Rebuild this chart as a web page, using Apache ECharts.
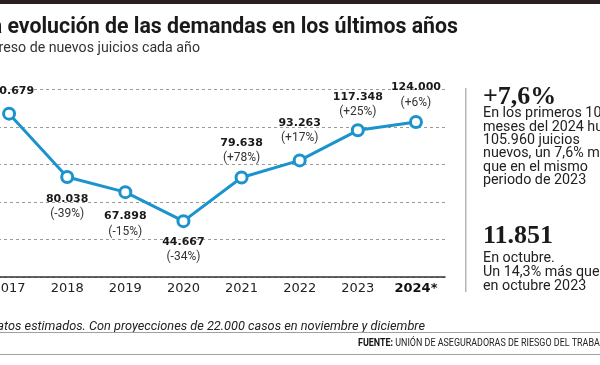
<!DOCTYPE html>
<html>
<head>
<meta charset="utf-8">
<script src="https://cdn.jsdelivr.net/npm/echarts@6/dist/echarts.min.js"></script>
<style>
html,body{margin:0;padding:0;background:#fff;overflow:hidden;width:600px;height:365px;}
#chart{width:620px;height:365px;margin-left:-20px;}
</style>
</head>
<body>
<div id="chart"></div>
<script>
// ---- data ----
var years = ['2017', '2018', '2019', '2020', '2021', '2022', '2023', '2024*'];
var values = [130679, 80038, 67898, 44667, 79638, 93263, 117348, 124000];
var changes = ['', '(-39%)', '(-15%)', '(-34%)', '(+78%)', '(+17%)', '(+25%)', '(+6%)'];
var yTicks = [0, 30000, 60000, 90000, 120000, 150000];

// ---- style (not data) ----
var labelSide = ['top', 'bottom', 'bottom', 'bottom', 'top', 'top', 'top', 'top'];
var labelGap = [8, 8, 10, 6, 5, 8, 4, 5];
var BLUE = '#1b93cc';
var OX = 20; // canvas is shifted 20px to the left

function fmt(v) {
  return String(v).replace(/\B(?=(\d{3})+(?!\d))/g, '.');
}

var seriesData = values.map(function (v, i) {
  return {
    value: v,
    label: {
      position: labelSide[i],
      distance: labelGap[i],
      formatter: changes[i] ? '{v|' + fmt(v) + '}\n{p|' + changes[i] + '}' : '{v|' + fmt(v) + '}'
    }
  };
});

var chart = echarts.init(document.getElementById('chart'), null, {renderer: 'canvas'});
var sans = 'Roboto, "Liberation Sans", sans-serif';
var serif = '"Liberation Serif", "DejaVu Serif", serif';

chart.setOption({
  animation: false,
  backgroundColor: '#fff',
  grid: {left: 0, right: 155, top: 89.5, bottom: 88, containLabel: false},
  xAxis: {
    type: 'category',
    data: years,
    boundaryGap: true,
    axisLine: {lineStyle: {color: '#333', width: 1.5}},
    axisTick: {inside: true, length: 5, lineStyle: {color: '#333', width: 1.5}},
    axisLabel: {
      interval: 0,
      margin: 5,
      fontFamily: '"DejaVu Sans", sans-serif',
      fontSize: 13,
      color: '#222',
      formatter: function (v) { return v === '2024*' ? '{b|' + v + '}' : v; },
      rich: {b: {fontFamily: '"DejaVu Sans", sans-serif', fontSize: 13, fontWeight: 'bold', color: '#111'}}
    }
  },
  yAxis: {
    type: 'value',
    min: yTicks[0],
    max: yTicks[yTicks.length - 1],
    interval: yTicks[1] - yTicks[0],
    axisLine: {show: false},
    axisTick: {show: false},
    axisLabel: {show: false},
    splitLine: {lineStyle: {color: '#9a9a9a', type: [3, 3], width: 1}}
  },
  series: [{
    type: 'line',
    data: seriesData,
    symbol: 'circle',
    symbolSize: 11,
    lineStyle: {color: BLUE, width: 3},
    itemStyle: {color: '#fff', borderColor: BLUE, borderWidth: 3},
    label: {
      show: true,
      lineHeight: 15,
      rich: {
        v: {fontFamily: '"DejaVu Sans", sans-serif', fontWeight: 'bold', fontSize: 11, color: '#1a1a1a', lineHeight: 15, align: 'center'},
        p: {fontFamily: sans, fontSize: 12, color: '#333', lineHeight: 15, align: 'center'}
      }
    },
    z: 3
  }],
  graphic: [
    {type: 'rect', shape: {x: OX, y: 0, width: 600, height: 4}, style: {fill: '#2b2020'}},
    {type: 'text', x: OX + 458, y: 28, style: {text: 'La evolución de las demandas en los últimos años', fontFamily: sans, fontWeight: 'bold', fontSize: 21.3, fill: '#1a1a1a', textAlign: 'right', textVerticalAlign: 'middle'}},
    {type: 'text', x: OX + 200, y: 48, style: {text: 'Ingreso de nuevos juicios cada año', fontFamily: sans, fontSize: 14.2, fill: '#333', textAlign: 'right', textVerticalAlign: 'middle'}},

    {type: 'rect', shape: {x: OX + 465, y: 88, width: 1.5, height: 204}, style: {fill: '#b5b5b5'}},
    {type: 'text', x: OX + 483, y: 97, style: {text: '+7,6%', fontFamily: serif, fontWeight: 'bold', fontSize: 26, fill: '#1a1a1a', textVerticalAlign: 'middle'}},
    {type: 'text', x: OX + 483, y: 107, style: {text: 'En los primeros 10\nmeses del 2024 hubo\n105.960 juicios\nnuevos, un 7,6% más\nque en el mismo\nperiodo de 2023', fontFamily: sans, fontSize: 14.3, lineHeight: 13.4, fill: '#222', textVerticalAlign: 'top'}},
    {type: 'text', x: OX + 483, y: 236, style: {text: '11.851', fontFamily: serif, fontWeight: 'bold', fontSize: 26, fill: '#1a1a1a', textVerticalAlign: 'middle'}},
    {type: 'text', x: OX + 483, y: 252, style: {text: 'En octubre.\nUn 14,3% más que\nen octubre 2023', fontFamily: sans, fontSize: 14.3, lineHeight: 13.6, fill: '#222', textVerticalAlign: 'top'}},

    {type: 'text', x: OX + 425, y: 327, style: {text: '*Datos estimados. Con proyecciones de 22.000 casos en noviembre y diciembre', fontFamily: sans, fontStyle: 'italic', fontSize: 12.75, fill: '#222', textAlign: 'right', textVerticalAlign: 'middle'}},
    {type: 'rect', shape: {x: OX, y: 332, width: 600, height: 1}, style: {fill: '#a0a0a0'}},
    {type: 'text', x: OX + 358, y: 343, scaleX: 0.85, style: {text: '{b|FUENTE:} UNIÓN DE ASEGURADORAS DE RIESGO DEL TRABAJO', fontFamily: sans, fontSize: 10.5, fill: '#222', textVerticalAlign: 'middle',
      rich: {b: {fontFamily: sans, fontWeight: 'bold', fontSize: 10.5, fill: '#111'}}}},
    {type: 'rect', shape: {x: OX, y: 354, width: 600, height: 1}, style: {fill: '#a0a0a0'}}
  ]
});
</script>
</body>
</html>
